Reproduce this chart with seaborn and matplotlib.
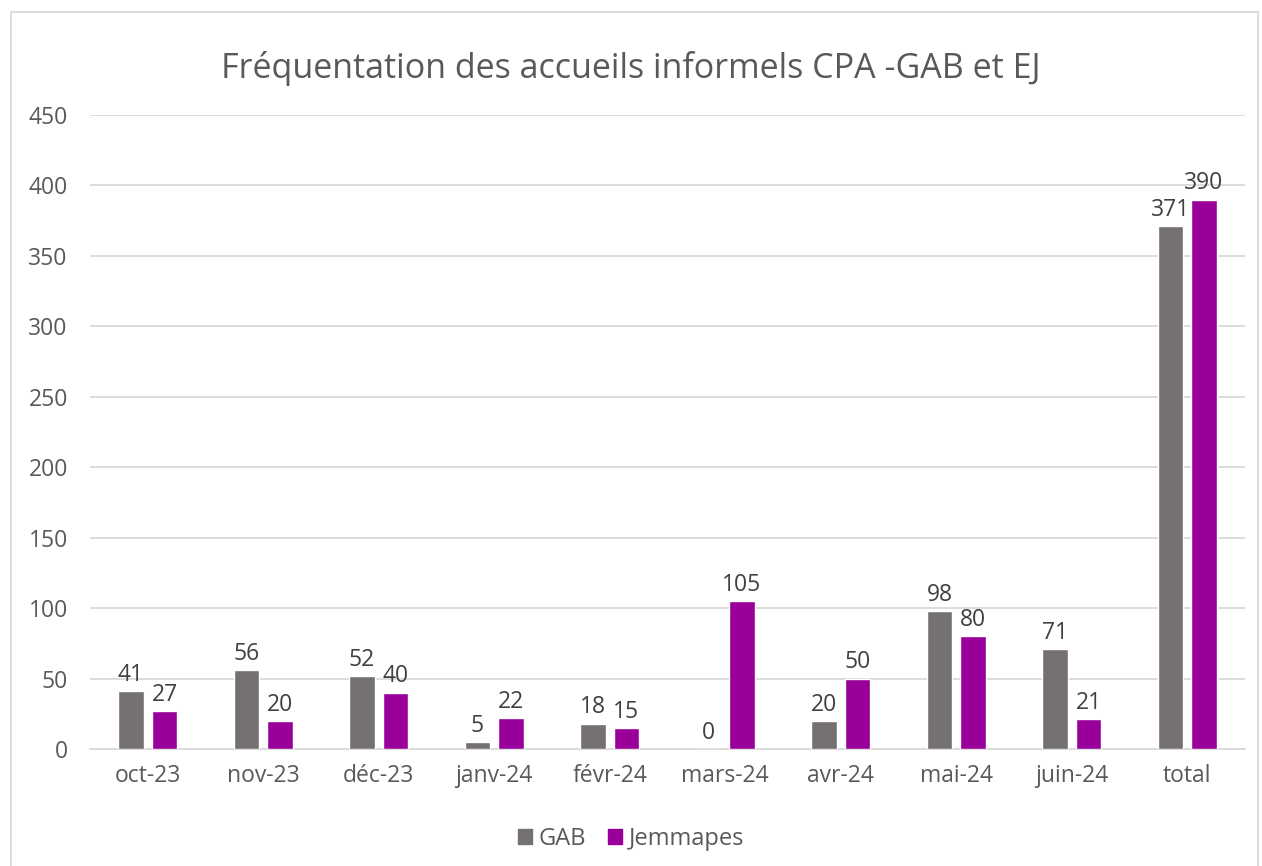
"""Bar chart: Fréquentation des accueils informels CPA - GAB et EJ."""

import matplotlib.pyplot as plt
import pandas as pd
import seaborn as sns
from matplotlib.patches import Rectangle

months = ["oct-23", "nov-23", "déc-23", "janv-24", "févr-24",
          "mars-24", "avr-24", "mai-24", "juin-24", "total"]
gab = [41, 56, 52, 5, 18, 0, 20, 98, 71, 371]
jemmapes = [27, 20, 40, 22, 15, 105, 50, 80, 21, 390]
series_names = ["GAB", "Jemmapes"]
colors = {"GAB": "#767171", "Jemmapes": "#990099"}

df = pd.DataFrame({
    "mois": months * 2,
    "serie": [series_names[0]] * len(months) + [series_names[1]] * len(months),
    "valeur": gab + jemmapes,
})

sns.set_theme(style="white")
plt.rcParams["font.family"] = ["Open Sans", "DejaVu Sans"]

fig = plt.figure(figsize=(12.62, 8.66), dpi=100)
ax = fig.add_axes([0.0713, 0.1351, 0.9152, 0.7321])

sns.barplot(data=df, x="mois", y="valeur", hue="serie", order=months,
            hue_order=series_names, palette=colors, width=0.58, gap=0.24,
            saturation=1, ax=ax, legend=False, zorder=3)

for cont in ax.containers:
    ax.bar_label(cont, fmt="%d", padding=3, fontsize=16.5, color="#404040")

ax.set_ylim(0, 450)
ax.set_xlim(-0.5, len(months) - 0.5)
ax.set_yticks(range(0, 451, 50))
ax.yaxis.grid(True, color="#d9d9d9", linewidth=1.3, zorder=0)
ax.xaxis.grid(False)
for side in ["top", "right", "left"]:
    ax.spines[side].set_visible(False)
ax.spines["bottom"].set_color("#d9d9d9")
ax.spines["bottom"].set_linewidth(1.3)
ax.tick_params(axis="both", length=0, labelsize=16.5, labelcolor="#595959")
ax.tick_params(axis="y", pad=16)
ax.tick_params(axis="x", pad=11)
ax.set_xlabel("")
ax.set_ylabel("")

fig.text(0.5, 0.921, "Fréquentation des accueils informels CPA -GAB et EJ",
         ha="center", va="center", fontsize=24.5, color="#595959")

handles = [Rectangle((0, 0), 1, 1, color=colors[s]) for s in series_names]
fig.legend(handles, series_names, loc="center", bbox_to_anchor=(0.5, 0.031),
           ncol=2, frameon=False, fontsize=17, labelcolor="#595959",
           handlelength=0.6, handleheight=0.6, handletextpad=0.3,
           columnspacing=0.9)

# chart border like the spreadsheet export
fig.patches.append(Rectangle((0.009, -0.01), 0.988, 0.996, transform=fig.transFigure,
                             fill=False, edgecolor="#d9d9d9", linewidth=1.3))

fig.savefig("out.png", dpi=100, facecolor="white")
plt.close(fig)
